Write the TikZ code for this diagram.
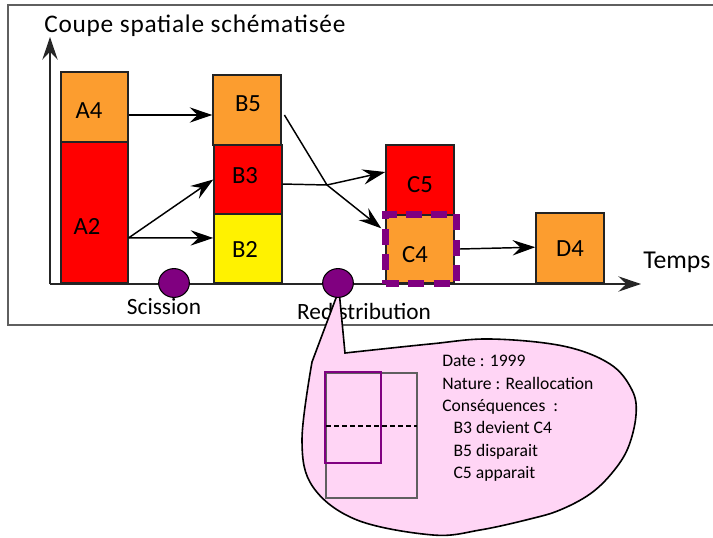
\documentclass[tikz,border=0pt]{standalone}
\usepackage{fontspec}
\setmainfont{Carlito}
\newfontfamily\titlefont[LetterSpace=3]{Carlito}
\usetikzlibrary{arrows.meta}
\definecolor{orng}{RGB}{252,157,47}
\definecolor{purp}{RGB}{128,0,128}
\definecolor{pinkc}{RGB}{255,213,245}
\definecolor{framec}{RGB}{95,95,95}
\definecolor{edgec}{RGB}{35,35,35}
\begin{document}
\begin{tikzpicture}[x=0.75pt,y=-0.75pt,
  box/.style 2 args={draw=edgec, line width=1.1pt, inner sep=0pt,
    minimum width=#1*0.75pt, minimum height=#2*0.75pt},
  lab/.style={font=\fontsize{18.5pt}{20pt}\selectfont, inner sep=0pt},
  evtdot/.style={draw=black, line width=0.8pt, fill=purp, circle, inner sep=0pt, minimum size=23pt, yscale=0.94},
  arr/.style={line width=1.1pt, -{Stealth[length=17pt, width=11.5pt, inset=6pt]}},
  axis/.style={line width=1.5pt, draw=black!85, -{Stealth[length=17pt, width=11.5pt, inset=6pt]}},
  evlab/.style={font=\fontsize{17.5pt}{20pt}\selectfont, inner sep=0pt}
]
\useasboundingbox (0,0) rectangle (713,538);
% frame
\draw[framec, line width=1.2pt] (716,5) -- (8,5) -- (8,325) -- (716,325);
% title
\node[anchor=base west, inner sep=0pt, font=\titlefont\fontsize{19pt}{21pt}\selectfont] (title) at (44,33) {Coupe spatiale schématisée};
% axes
\coordinate (O) at (50,284);
\coordinate (Ytip) at (50,37);
\coordinate (Xtip) at (641,284);
\draw[axis] (O) -- (Ytip);
\draw[axis] (O) -- (Xtip);
% boxes
\node[box={67}{70}, fill=orng] (A4) at (94.5,107) {};
\node[box={67}{141}, fill=red] (A2) at (94.5,212.5) {};
\node[box={68}{70}, fill=orng] (B5) at (247,110) {};
\node[box={68}{69}, fill=red] (B3) at (248,179.5) {};
\node[box={68}{69}, fill=yellow] (B2) at (248,248.5) {};
\node[box={68}{70}, fill=red] (C5) at (420,180) {};
\node[box={68}{68}, fill=orng] (C4) at (420,249) {};
\node[box={68}{70}, fill=orng] (D4) at (570,248) {};
\node[draw=purp, line width=5pt, dash pattern=on 12pt off 7pt, dash phase=2pt, inner sep=0pt,
  minimum width=71*0.75pt, minimum height=69*0.75pt] (C4sel) at (421,249) {};
% box labels
\node[lab] (tA4) at (89,111) {A4};
\node[lab] (tA2) at (87,226) {A2};
\node[lab] (tB5) at (248,104) {B5};
\node[lab] (tB3) at (245,176) {B3};
\node[lab] (tB2) at (245,249) {B2};
\node[lab] (tC5) at (420,185) {C5};
\node[lab] (tC4) at (415,255) {C4};
\node[lab] (tD4) at (570,249) {D4};
% connectors
\coordinate (X) at (327,185);
\draw[arr] ([yshift=-6pt]A4.east) -- ([yshift=-3.75pt]B5.west);
\draw[arr] ([yshift=-19pt]A2.east) -- (B3.west);
\draw[arr] ([yshift=-19pt]A2.east) -- ([yshift=7.9pt]B2.west);
\draw[arr] ([yshift=-3.4pt]B3.east) -- (X) -- ([yshift=6pt]C5.west);
\draw[arr] ([xshift=2pt,yshift=-3.75pt]B5.east) -- (X) -- ([xshift=-3pt,yshift=15.5pt]C4.west);
\draw[arr] (C4sel.east) -- ([yshift=0.6pt]D4.west);
% Temps
\node[anchor=west, inner sep=0pt, font=\fontsize{19.3pt}{21pt}\selectfont] (temps) at (643,262) {Temps};
% events
\node[evtdot] (S) at (174,283) {};
\node[evlab] (tS) at (164,307) {Scission};
\node[evlab] (tR) at (364,311) {Redistribution};
% callout
\draw[fill=pinkc, draw=black, line width=1.2pt] (339,290) -- plot[smooth, tension=0.6] coordinates {(345,353) (430,344) (490,339) (563,346) (610,364) (632,390) (636,415) (628,448) (612,473) (590,494) (560,510) (530,519) (480,530) (433,535) (357,520) (313,487) (302,440) (312,362)} -- cycle;
\node[evtdot] (R) at (338,283) {};
% callout content
\draw[framec, line width=0.9pt] (326,373) rectangle (417,498);
\draw[purp, line width=1.6pt] (325,372) rectangle (381,463);
\draw[black, line width=1.2pt, dash pattern=on 3.5pt off 2.5pt] (326,426) -- (417,426);
\node[anchor=north west, inner sep=0pt, align=left, font=\fontsize{13.2pt}{16.8pt}\selectfont] (info) at (442,355)
 {Date : 1999\\ Nature : Reallocation\\ Conséquences~ :\\ \hspace*{8.5pt}B3 devient C4\\ \hspace*{8.5pt}B5 disparait\\ \hspace*{8.5pt}C5 apparait};
\end{tikzpicture}
\end{document}
